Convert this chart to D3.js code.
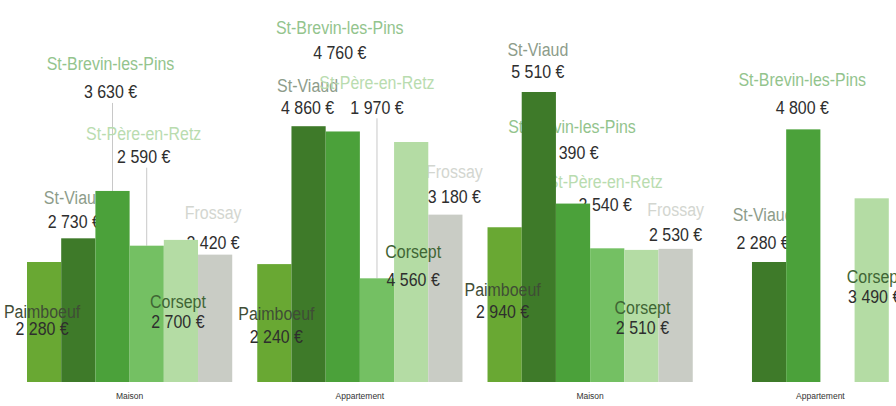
<!DOCTYPE html>
<html>
<head>
<meta charset="utf-8">
<script src="https://cdn.jsdelivr.net/npm/d3@7"></script>
<style>
  html, body { margin: 0; padding: 0; background: #ffffff; }
  svg { display: block; }
  text { font-family: "Liberation Sans", Arial, sans-serif; }
</style>
</head>
<body>
<svg id="chart" width="896" height="406"></svg>
<script>
// ---------- DATA ----------
const categories = ["Maison", "Appartement", "Maison", "Appartement"];
const seriesNames = ["Paimboeuf", "St-Viaud", "St-Brevin-les-Pins", "St-Père-en-Retz", "Corsept", "Frossay"];
const paimboeuf = [2280, 2240, 2940, null];
const stViaud   = [2730, 4860, 5510, 2280];
const stBrevin  = [3630, 4760, 3390, 4800];
const stPere    = [2590, 1970, 2540, null];
const corsept   = [2700, 4560, 2510, 3490];
const frossay   = [2420, 3180, 2530, null];
const seriesValues = [paimboeuf, stViaud, stBrevin, stPere, corsept, frossay];

// ---------- STYLE ----------
const barColors  = ["#69a833", "#3e7a29", "#4ba13a", "#74c063", "#b4dca4", "#c9ccc5"];
const nameColors = ["#3f4d36", "#8d9c8a", "#93c48d", "#b9dcaf", "#3f6534", "#d3d6d0"];
const valueColor = "#2e2e2e";

// label placement (annotation layout): [group, series, dx, dyName, dyValue, inside, leader]
// dx from bar centre, dy relative to bar top
const labelLayout = [
  [0, 0, -2,   50,   67, true,  false],
  [0, 1, -4,  -41,  -17, false, false],
  [0, 2, -2, -127,  -99, false, true],
  [0, 3, -3, -112,  -89, false, true],
  [0, 4, -3,   62,   82, true,  false],
  [0, 5, -2,  -42,  -12, false, false],
  [1, 0,  2,   49,   72, true,  false],
  [1, 1, -1,  -41,  -19, false, false],
  [1, 2, -3, -104,  -79, false, false],
  [1, 3,  0, -196, -171, false, true],
  [1, 4,  2,  110,  138, true,  false],
  [1, 5,  9,  -43,  -18, false, false],
  [2, 0, -2,   62,   84, true,  false],
  [2, 1, -1,  -42,  -20, false, false],
  [2, 2, -1,  -77,  -51, false, false],
  [2, 3, -2,  -67,  -44, false, false],
  [2, 4,  1,   58,   78, true,  false],
  [2, 5,  0,  -39,  -14, false, false],
  [3, 1, -6,  -47,  -19, false, false],
  [3, 2, -1,  -50,  -22, false, false],
  [3, 4,  3,   78,   98, true,  false]
];

// ---------- SCALES ----------
const W = 896, H = 406;
const baseline = 382;
const svg = d3.select("#chart");

const x0 = d3.scaleBand()
  .domain(d3.range(categories.length))
  .range([27, 923])
  .paddingInner(25 / 230)
  .paddingOuter(0);

const x1 = d3.scaleBand()
  .domain(d3.range(seriesNames.length))
  .range([0, x0.bandwidth()])
  .padding(0);

const y = d3.scaleLinear()
  .domain([0, d3.max(seriesValues.flat())])
  .range([baseline, 92]);

const fmt = v => d3.format(",")(v).replace(/,/g, " ") + " €";

const barData = [];
categories.forEach((c, gi) => {
  seriesNames.forEach((s, si) => {
    const v = seriesValues[si][gi];
    if (v != null) barData.push({ gi, si, v });
  });
});

const findBar = (gi, si) => barData.find(d => d.gi === gi && d.si === si);
const cx = d => x0(d.gi) + x1(d.si) + x1.bandwidth() / 2;

const labels = labelLayout.map(([gi, si, dx, dyN, dyV, inside, leader]) => {
  const d = findBar(gi, si);
  return { d, gi, si, dx, dyN, dyV, inside, leader };
});

const textScale = 0.84;
function drawLabel(g, L) {
  const x = cx(L.d) + L.dx;
  const top = y(L.d.v);
  g.append("text")
    .attr("transform", `translate(${x},${top + L.dyN}) scale(${textScale},1)`)
    .attr("text-anchor", "middle")
    .attr("dominant-baseline", "central")
    .attr("font-size", 19)
    .attr("fill", nameColors[L.si])
    .text(seriesNames[L.si]);
  g.append("text")
    .attr("transform", `translate(${x},${top + L.dyV}) scale(${textScale},1)`)
    .attr("text-anchor", "middle")
    .attr("dominant-baseline", "central")
    .attr("font-size", 19)
    .attr("fill", valueColor)
    .text(fmt(L.d.v));
}

// leader lines + labels above bars (beneath bars in stacking)
const under = svg.append("g");
labels.filter(L => L.leader).forEach(L => {
  const top = y(L.d.v);
  under.append("line")
    .attr("x1", cx(L.d)).attr("x2", cx(L.d))
    .attr("y1", top + L.dyV + 11).attr("y2", top)
    .attr("stroke", "#c8c8c8").attr("stroke-width", 1);
});
labels.filter(L => !L.inside).forEach(L => drawLabel(under, L));

// bars
svg.append("g").selectAll("rect")
  .data(barData)
  .join("rect")
  .attr("x", d => x0(d.gi) + x1(d.si))
  .attr("y", d => y(d.v))
  .attr("width", x1.bandwidth())
  .attr("height", d => baseline - y(d.v))
  .attr("fill", d => barColors[d.si]);

// labels inside bars
const over = svg.append("g");
labels.filter(L => L.inside).forEach(L => drawLabel(over, L));

// category labels
svg.append("g").selectAll("text")
  .data(categories)
  .join("text")
  .attr("x", (c, i) => x0(i) + x0.bandwidth() / 2)
  .attr("y", 396)
  .attr("text-anchor", "middle")
  .attr("dominant-baseline", "central")
  .attr("font-size", 8.5)
  .attr("fill", "#333")
  .text(c => c);
</script>
</body>
</html>
